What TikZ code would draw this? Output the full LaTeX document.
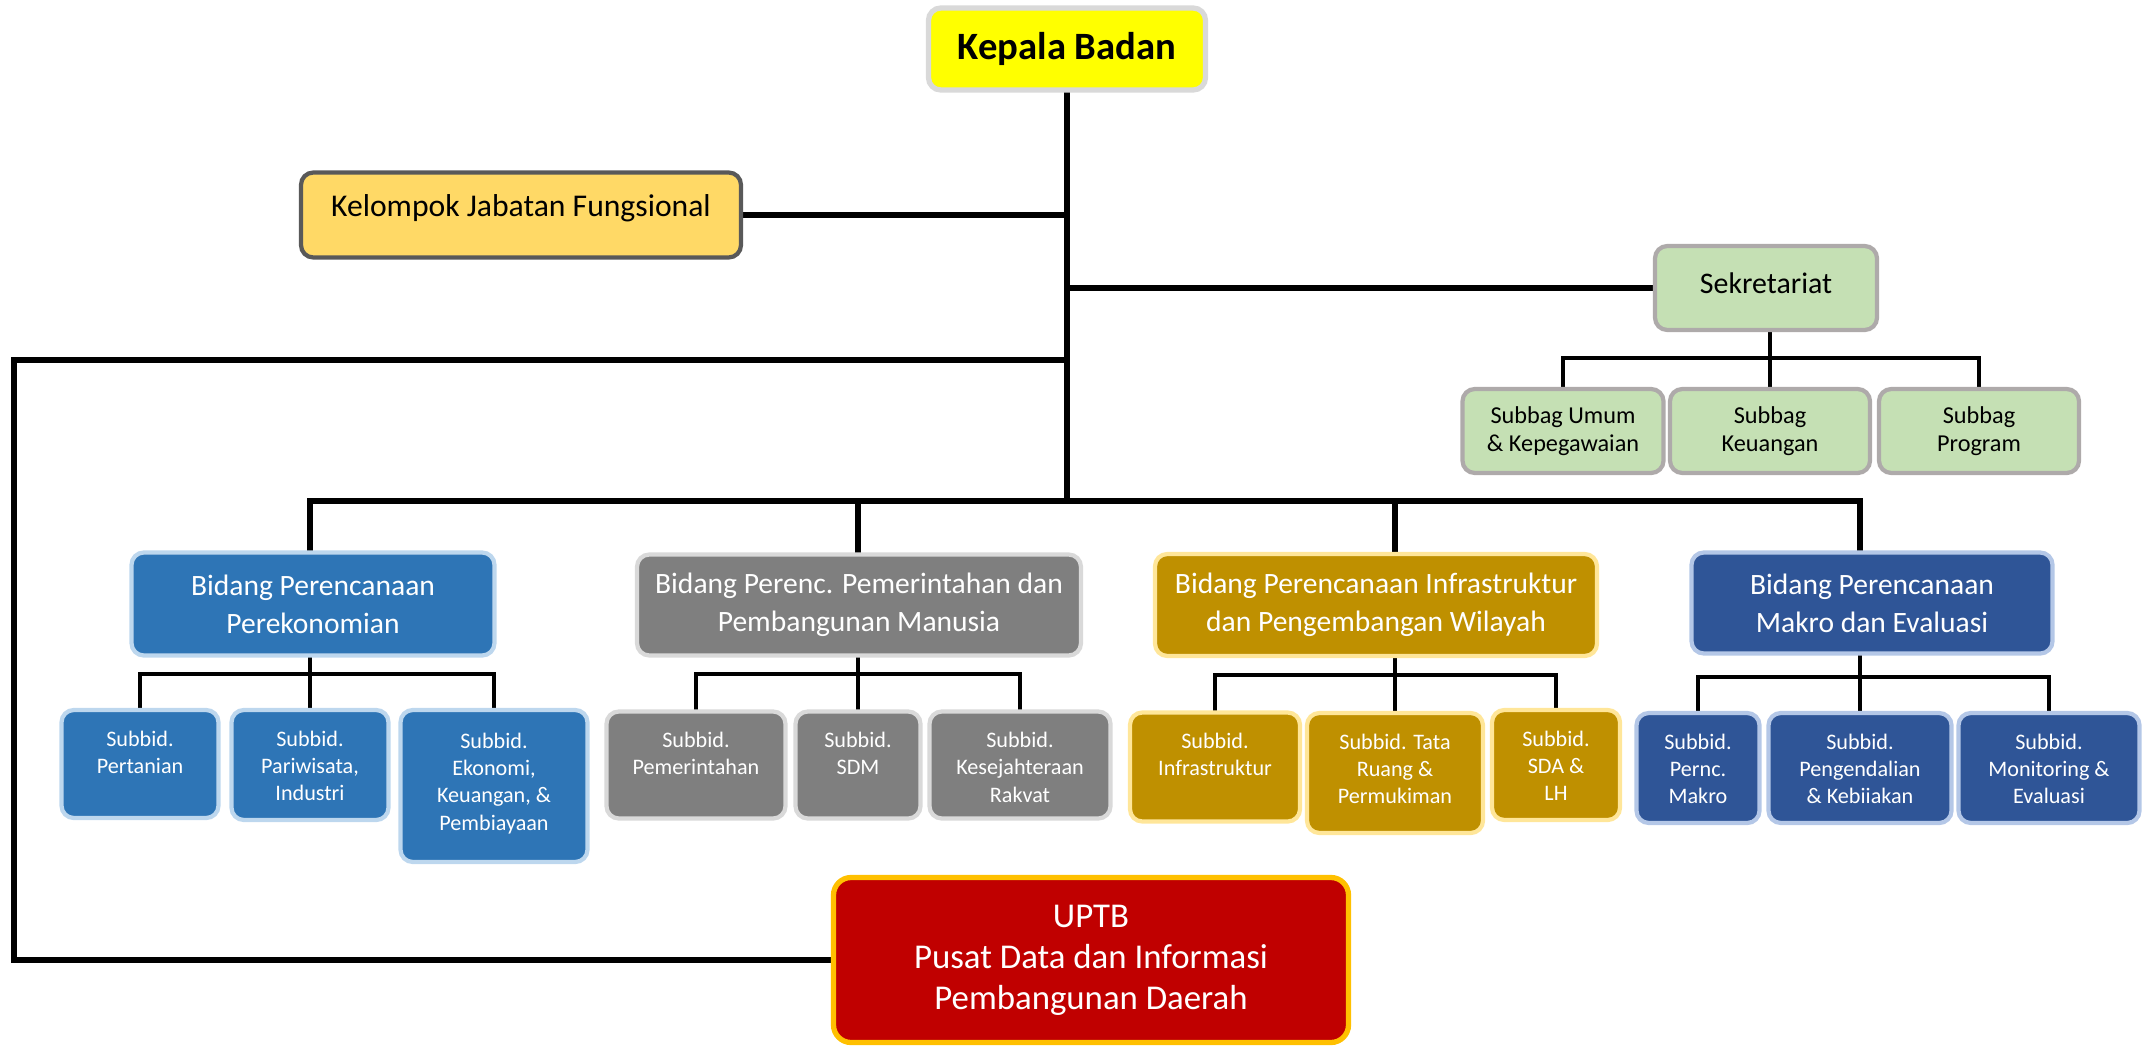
\documentclass[tikz,border=0pt]{standalone}
\usepackage{fontspec}
\setmainfont{Carlito}
\usetikzlibrary{positioning,backgrounds}

\definecolor{kbyellow}{HTML}{FFFF00}
\definecolor{kbline}{HTML}{D9D9D9}
\definecolor{kjfyellow}{HTML}{FFD966}
\definecolor{kjfline}{HTML}{595959}
\definecolor{sekgreen}{HTML}{C5E0B4}
\definecolor{sekline}{HTML}{AEAAAA}
\definecolor{ekoblue}{HTML}{2E75B6}
\definecolor{ekoline}{HTML}{BDD7EE}
\definecolor{pemgray}{HTML}{7F7F7F}
\definecolor{pemline}{HTML}{D9D9D9}
\definecolor{infgold}{HTML}{BF9000}
\definecolor{infline}{HTML}{FFE699}
\definecolor{makblue}{HTML}{2F5597}
\definecolor{makline}{HTML}{B4C7E7}
\definecolor{uptred}{HTML}{C00000}
\definecolor{uptline}{HTML}{FFC000}

\begin{document}
\begin{tikzpicture}[x=0.01cm,y=-0.01cm,
  box/.style={draw,rounded corners=3.5pt,line width=1.2pt,inner sep=0pt,align=center},
  wh/.style 2 args={minimum width=#1*0.01cm,minimum height=#2*0.01cm},
  ekobox/.style={box,fill=ekoblue,draw=ekoline,text=white},
  pembox/.style={box,fill=pemgray,draw=pemline,text=white},
  infbox/.style={box,fill=infgold,draw=infline,text=white},
  makbox/.style={box,fill=makblue,draw=makline,text=white},
  sekbox/.style={box,fill=sekgreen,draw=sekline},
  bidfont/.style={font=\fontsize{8.4}{10.8}\selectfont},
  sbgfont/.style={font=\fontsize{6.9}{7.9}\selectfont},
  subtxt/.style={font=\fontsize{6.3}{7.8}\selectfont,text=white,align=center,inner sep=0pt},
  trunk/.style={line width=1.9pt,line cap=rect},
  bar/.style={line width=1.4pt,line cap=rect},
  stem/.style={line width=0.9pt,line cap=rect}]
\useasboundingbox (0,0) rectangle (2145,1045);

%Top
\node[box,fill=kbyellow,draw=kbline,line width=1.5pt,wh={277}{82},font=\fontsize{11}{13}\selectfont\bfseries] (kb) at (1067,49) {Kepala Badan};
\node[box,fill=kjfyellow,draw=kjfline,wh={440}{85}] (kjf) at (521,215) {};
\node[font=\fontsize{9}{11}\selectfont] (kjft) at ([yshift=0.07cm]kjf.center) {Kelompok Jabatan Fungsional};

%Sekretariat
\node[sekbox,wh={222}{84}] (sekr) at (1766,288) {};
\node[font=\fontsize{8.5}{10}\selectfont] (sekrt) at ([yshift=0.05cm]sekr.center) {Sekretariat};
\node[sekbox,sbgfont,wh={201}{84}] (sb1) at (1563,431) {Subbag Umum\\\& Kepegawaian};
\node[sekbox,sbgfont,wh={200}{84}] (sb2) at (1770,431) {Subbag\\Keuangan};
\node[sekbox,sbgfont,wh={200}{84}] (sb3) at (1979,431) {Subbag\\Program};

%Bidang
\node[ekobox,bidfont,wh={363}{103}] (b1) at (313,604) {Bidang Perencanaan\\Perekonomian};
\node[pembox,bidfont,wh={444}{101}] (b2) at (859,605) {Bidang Perenc. Pemerintahan dan\\Pembangunan Manusia};
\node[infbox,bidfont,wh={442}{102}] (b3) at (1376,605) {Bidang Perencanaan Infrastruktur\\dan Pengembangan Wilayah};
\node[makbox,bidfont,wh={361}{101}] (b4) at (1872,603) {Bidang Perencanaan\\Makro dan Evaluasi};

%Subbid
\node[ekobox,wh={157}{108}] (p1) at (140,764) {};
\node[subtxt,below=0.22cm of p1.north] (p1t) {Subbid.\\Pertanian};
\node[ekobox,wh={157}{110}] (p2) at (310,765) {};
\node[subtxt,below=0.22cm of p2.north] (p2t) {Subbid.\\Pariwisata,\\Industri};
\node[ekobox,wh={187}{152}] (p3) at (494,786) {};
\node[subtxt,below=0.24cm of p3.north] (p3t) {Subbid.\\Ekonomi,\\Keuangan, \&\\Pembiayaan};

\node[pembox,wh={179}{107}] (q1) at (696,765) {};
\node[subtxt,below=0.22cm of q1.north] (q1t) {Subbid.\\Pemerintahan};
\node[pembox,wh={125}{107}] (q2) at (858,765) {};
\node[subtxt,below=0.22cm of q2.north] (q2t) {Subbid.\\SDM};
\node[pembox,wh={181}{107}] (q3) at (1020,765) {};
\node[subtxt,below=0.22cm of q3.north] (q3t) {Subbid.\\Kesejahteraan\\Rakvat};

\node[infbox,wh={170}{109}] (r1) at (1215,767) {};
\node[subtxt,below=0.22cm of r1.north] (r1t) {Subbid.\\Infrastruktur};
\node[infbox,wh={176}{120}] (r2) at (1395,773) {};
\node[subtxt,below=0.22cm of r2.north] (r2t) {Subbid. Tata\\Ruang \&\\Permukiman};
\node[infbox,wh={128}{110}] (r3) at (1556,765) {};
\node[subtxt,below=0.22cm of r3.north] (r3t) {Subbid.\\SDA \&\\LH};

\node[makbox,wh={123}{110}] (s1) at (1698,768) {};
\node[subtxt,below=0.22cm of s1.north] (s1t) {Subbid.\\Pernc.\\Makro};
\node[makbox,wh={183}{110}] (s2) at (1860,768) {};
\node[subtxt,below=0.22cm of s2.north] (s2t) {Subbid.\\Pengendalian\\\& Kebiiakan};
\node[makbox,wh={181}{110}] (s3) at (2049,768) {};
\node[subtxt,below=0.22cm of s3.north] (s3t) {Subbid.\\Monitoring \&\\Evaluasi};

%UPTB
\node[box,fill=uptred,draw=uptline,line width=1.5pt,rounded corners=5pt,wh={515}{165},text=white,font=\fontsize{9.9}{11.7}\selectfont] (uptb) at (1091,960) {UPTB\\Pusat Data dan Informasi\\Pembangunan Daerah};

%Lines
\begin{scope}[on background layer]
\coordinate (bus) at (1067,501);
\coordinate (lt) at (14,360);
\draw[trunk] (kb.south) -- (bus);
\draw[trunk] (kjf.east) -- (kjf.east -| kb);
\draw[trunk] (sekr.west) -- (sekr.west -| kb);
\draw[trunk] (lt -| kb) -- (lt) |- (uptb.west);
\draw[trunk] (p2.north |- bus) -- (s2.north |- bus);
\foreach \b/\c in {b1/p2,b2/q2,b3/r2,b4/s2}
  \draw[trunk] (\c.north |- bus) -- (\c.north |- \b.north);
%Branches
\foreach \b/\l/\m/\r/\y in {b1/p1/p2/p3/674,b2/q1/q2/q3/674,b3/r1/r2/r3/675,b4/s1/s2/s3/677,sekr/sb1/sb2/sb3/358}{
  \coordinate (\b bar) at (0,\y);
  \draw[bar] (\l.north |- \b bar) -- (\r.north |- \b bar);
  \draw[stem] (\m.north |- \b.south) -- (\m.north);
  \draw[stem] (\l.north |- \b bar) -- (\l.north);
  \draw[stem] (\r.north |- \b bar) -- (\r.north);
}
\end{scope}

\end{tikzpicture}
\end{document}
